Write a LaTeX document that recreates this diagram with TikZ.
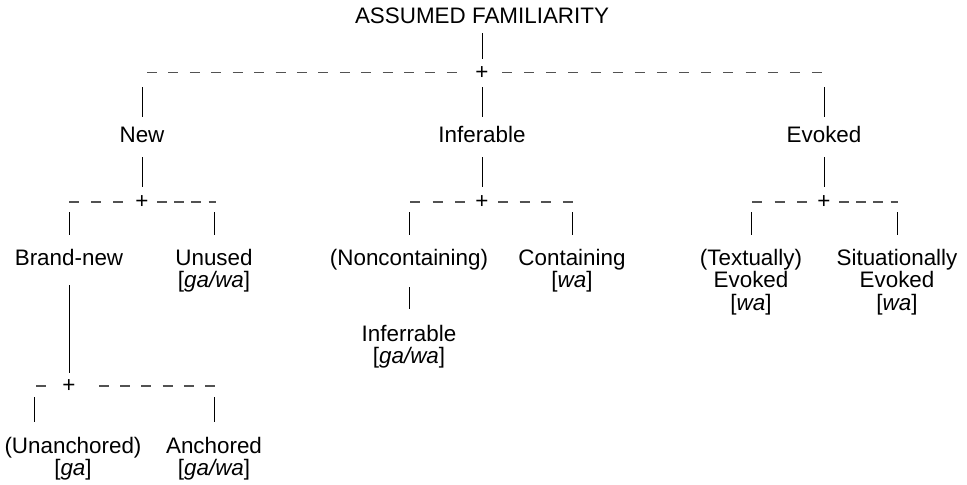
\documentclass[tikz,border=0pt]{standalone}
\usepackage{fontspec}
\setmainfont{Liberation Sans}
\newcommand\mlab[1]{\begin{tabular}[t]{@{}c@{}}#1\end{tabular}}
\begin{document}
\begin{tikzpicture}[x=0.5pt,y=-0.5pt,
  lbl/.style={inner sep=0pt, anchor=base, font=\fontsize{11.2}{10.6}\selectfont},
  plus/.style={inner sep=0pt, anchor=base, yshift=-3.45pt, font=\fontsize{11.2}{11}\selectfont},
  vl/.style={line width=0.5pt, black},
  dl/.style={line width=0.8pt, black!68, dash pattern=on 5pt off #1}]
\useasboundingbox (0,0) rectangle (967,484);

% root
\node[lbl] (title) at (482,23.3) {ASSUMED FAMILIARITY};
\coordinate (r1) at (482,72.5);
\node[plus] (p1) at (r1) {+};
\draw[vl] (title |- 0,33) -- (title |- 0,59);
\draw[dl=5.71pt] (r1 -| 147,0) -- (r1 -| 457,0);
\draw[dl=6.07pt] (r1 -| 502,0) -- (r1 -| 822,0);

% level 1
\node[lbl] (new) at (142,142.7) {New};
\node[lbl] (inf) at (482,142.7) {Inferable};
\node[lbl] (evo) at (824,142.7) {Evoked};
\foreach \n in {new,inf,evo}{
  \draw[vl] (\n |- 0,87) -- (\n |- 0,117);
  \draw[vl] (\n |- 0,157) -- (\n |- 0,187);
}

% level 2 rows
\coordinate (r2a) at (142,201.7);
\coordinate (r2b) at (482,201.7);
\coordinate (r2c) at (824,201.7);
\node[plus] (p2a) at (r2a) {+};
\node[plus] (p2b) at (r2b) {+};
\node[plus] (p2c) at (r2c) {+};
\draw[dl=6pt] (r2a -| 69,0) -- (r2a -| 123,0);
\draw[dl=3.6pt] (r2a -| 157,0) -- (r2a -| 216,0);
\draw[dl=6.25pt] (r2b -| 410,0) -- (r2b -| 465,0);
\draw[dl=5.83pt] (r2b -| 498,0) -- (r2b -| 573,0);
\draw[dl=6.25pt] (r2c -| 752,0) -- (r2c -| 807,0);
\draw[dl=3.6pt] (r2c -| 839,0) -- (r2c -| 898,0);

% level 2 labels
\node[lbl] (bnew) at (69,265) {Brand-new};
\node[lbl] (unused) at (214,265) {\mlab{Unused\\{}[\textit{ga/wa}]}};
\node[lbl] (nonc) at (409,265) {(Noncontaining)};
\node[lbl] (cont) at (572,265) {\mlab{Containing\\{}[\textit{wa}]}};
\node[lbl] (text) at (751,265) {\mlab{(Textually)\\Evoked\\{}[\textit{wa}]}};
\node[lbl] (sit) at (897,265) {\mlab{Situationally\\Evoked\\{}[\textit{wa}]}};
\foreach \n in {bnew,unused,nonc,cont,text,sit}{
  \draw[vl] (\n |- 0,212) -- (\n |- 0,235);
}

% under Noncontaining
\node[lbl] (inferr) at (409,341) {\mlab{Inferrable\\{}[\textit{ga/wa}]}};
\draw[vl] (nonc |- 0,287) -- (nonc |- 0,309);

% under Brand-new
\draw[vl] (bnew |- 0,285) -- (bnew |- 0,373);
\coordinate (r3) at (69,386);
\node[plus] (p3) at (r3) {+};
\draw[dl=5pt] (r3 -| 36,0) -- (r3 -| 46,0);
\draw[dl=5.6pt] (r3 -| 99,0) -- (r3 -| 215,0);

\node[lbl] (unanch) at (73,453) {\mlab{(Unanchored)\\{}[\textit{ga}]}};
\node[lbl] (anch) at (214,453) {\mlab{Anchored\\{}[\textit{ga/wa}]}};
\coordinate (ua) at (34.5,397);
\draw[vl] (ua) -- (ua |- 0,422);
\draw[vl] (anch |- 0,397) -- (anch |- 0,422);
\end{tikzpicture}
\end{document}
